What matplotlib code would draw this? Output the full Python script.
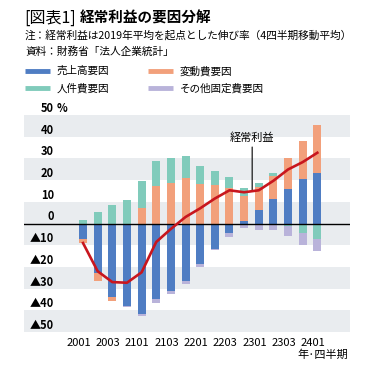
import numpy as np
import matplotlib.pyplot as plt
from matplotlib.lines import Line2D

plt.rcParams['font.family'] = ['Noto Sans CJK JP', 'DejaVu Sans']

# quarters (YYQQ) and factor contributions in %
quarters = ['2001', '2002', '2003', '2004', '2101', '2102', '2103', '2104',
            '2201', '2202', '2203', '2204', '2301', '2302', '2303', '2304', '2401']
sales = [-7.2, -23.0, -34.0, -38.0, -41.6, -35.0, -31.3, -26.3, -18.6, -11.7,
         -4.6, 1.2, 6.1, 11.4, 16.0, 20.3, 23.2]
variable = [-2.0, -3.5, -1.5, 0.0, 7.0, 17.2, 18.7, 20.9, 18.0, 17.8,
            16.3, 11.3, 10.5, 10.3, 14.1, 17.6, 22.3]
labor = [1.7, 5.5, 8.3, 10.6, 12.8, 11.5, 11.3, 10.1, 8.4, 6.3,
         4.9, 3.8, 2.1, 1.5, -1.2, -4.2, -7.0]
other = [0.0, 0.0, 0.0, -0.5, -0.8, -1.5, -1.4, -1.7, -1.5, -0.7,
         -1.4, -2.0, -3.1, -3.2, -4.6, -5.6, -5.9]
profit = [-9.0, -22.0, -27.0, -27.3, -22.5, -8.5, -2.5, 3.0, 7.0, 11.5,
          15.3, 14.4, 15.3, 19.7, 24.9, 28.3, 32.6]
series_names = ['売上高要因', '変動費要因', '人件費要因', 'その他固定費要因']
y_levels = list(range(-50, 51, 10))

BLUE = '#4f7dc3'
ORANGE = '#f2a07b'
TEAL = '#80cbbb'
PURPLE = '#b9b3da'
RED = '#c8161e'
BAND = '#e9ecef'

W, H = 374, 373


def main():
    fig = plt.figure(figsize=(W / 100, H / 100), dpi=100)
    fig.patch.set_facecolor('white')
    ax = fig.add_axes([24 / W, 1 - 332 / H, (350 - 24) / W, (332 - 115) / H])

    n = len(quarters)
    x = np.arange(n)
    ax.set_xlim(-4.03, 18.23)
    ax.set_ylim(-50, 50)

    # shaded bands
    for lo in [40, 20, 0, -10, -30, -50]:
        ax.axhspan(lo, lo + 10, color=BAND, lw=0, zorder=0)

    # stacked bars, positives and negatives stacked separately
    colors = [BLUE, ORANGE, TEAL, PURPLE]
    pos_bottom = np.zeros(n)
    neg_bottom = np.zeros(n)
    for vals, c in zip([sales, variable, labor, other], colors):
        v = np.array(vals)
        bottom = np.where(v >= 0, pos_bottom, neg_bottom)
        ax.bar(x, v, width=0.55, bottom=bottom, color=c, lw=0, zorder=2)
        pos_bottom += np.clip(v, 0, None)
        neg_bottom += np.clip(v, None, 0)

    ax.axhline(0, color='black', lw=1, zorder=3)
    ax.plot(x, profit, color=RED, lw=1.9, zorder=4)

    ax.annotate('経常利益', xy=(11.55, (profit[11] + profit[12]) / 2),
                xytext=(11.55, 39.6), ha='center', va='center', fontsize=8,
                arrowprops=dict(arrowstyle='-', lw=0.8, color='black',
                                shrinkA=1, shrinkB=0))

    # y labels sit just above each gridline
    for v in y_levels:
        lab = '▲%d' % -v if v < 0 else str(v)
        ax.text(-1.98, v + 1.4, lab, ha='right', va='baseline',
                fontsize=8, fontweight='bold')
    ax.text(-1.78, 51.4, '%', ha='left', va='baseline', fontsize=8,
            fontweight='bold')

    ax.set_xticks(x[::2] - 0.3, quarters[::2])
    ax.tick_params(axis='x', length=0, pad=4, labelsize=8)
    ax.set_yticks([])
    for s in ax.spines.values():
        s.set_visible(False)

    fig.text(348 / W, 1 - 355 / H, '年·四半期', ha='right', va='center',
             fontsize=8)

    # title block
    fig.text(24 / W, 1 - 18 / H, '[図表1]', fontsize=11.5, va='center')
    fig.text(80 / W, 1 - 18 / H, '経常利益の要因分解', fontsize=10.5,
             fontweight='bold', va='center')
    fig.text(25 / W, 1 - 35 / H,
             '注：経常利益は2019年平均を起点とした伸び率（4四半期移動平均）',
             fontsize=7.7, va='center')
    fig.text(25 / W, 1 - 52 / H, '資料：財務省「法人企業統計」',
             fontsize=7.7, va='center')

    # legend
    spots = [(25, 71), (148, 71), (25, 88), (148, 88)]
    for (lx, ly), name, c in zip(spots, series_names, colors):
        fig.add_artist(Line2D([lx / W, (lx + 25) / W], [1 - ly / H] * 2,
                              color=c, lw=3.5, solid_capstyle='butt'))
        fig.text((lx + 32) / W, 1 - ly / H, name, fontsize=7.6, va='center')

    fig.savefig('out.png', dpi=100)


if __name__ == "__main__":
    main()
